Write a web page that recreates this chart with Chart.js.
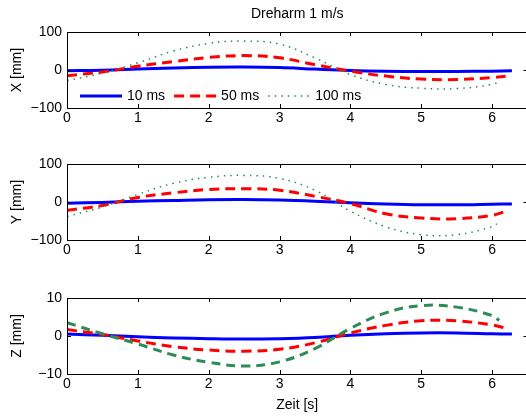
<!DOCTYPE html>
<html>
<head>
<meta charset="utf-8">
<script src="https://cdn.jsdelivr.net/npm/chart.js@4"></script>
<style>
    body { margin: 0; width: 526px; height: 417px; overflow: hidden; background: #fff; }
    .panel { position: absolute; left: 0; }
</style>
</head>
<body>
<div class="panel" style="top:0px"><canvas id="chartX" width="540" height="128"></canvas></div>
<div class="panel" style="top:140px"><canvas id="chartY" width="540" height="120"></canvas></div>
<div class="panel" style="top:274px"><canvas id="chartZ" width="540" height="143"></canvas></div>
<script>
// time stamps of each series (the slower ones stop a bit earlier)
const t10 = [0, 0.5, 1, 1.5, 2, 2.5, 3, 3.5, 4, 4.5, 5, 5.5, 6, 6.28];
const t50 = [0, 0.5, 1, 1.5, 2, 2.5, 3, 3.5, 4, 4.5, 5, 5.5, 6, 6.2];
const t100 = [0, 0.5, 1, 1.5, 2, 2.5, 3, 3.5, 4, 4.5, 5, 5.5, 6, 6.1];

const seriesLabels = ['10 ms', '50 ms', '100 ms'];

// X [mm]
const x10 = [-2, -0.5, 2.5, 5.5, 7.5, 8, 6.5, 2.5, -1, -3, -4, -4, -3, -2];
const x50 = [-15, -5, 10, 22, 33, 38, 32, 14, -3, -16, -24, -25, -20, -16];
const x100 = [-28, -8, 19, 50, 70, 76, 68, 32, -12, -38, -48, -49, -38, -31];

// Y [mm]
const y10 = [-3, -1, 2, 4, 6, 6.5, 5, 2, -2, -5, -7, -7.5, -6, -5];
const y50 = [-22, -9, 12, 24, 33, 35, 31, 15, -4, -31, -42, -44, -35, -24];
const y100 = [-38, -13, 20, 49, 65, 70, 62, 31, -24, -65, -86, -86, -65, -53];

// Z [mm]
const z10 = [0.5, 0.2, -0.2, -0.5, -0.7, -0.8, -0.7, -0.4, 0.2, 0.6, 0.8, 0.8, 0.6, 0.5];
const z50 = [1.7, 0.4, -1.3, -2.8, -3.7, -4, -3.5, -1.8, 0.8, 2.8, 4, 4, 2.9, 2];
const z100 = [3.5, 0.6, -2.1, -5, -6.9, -7.9, -6.8, -3.3, 2, 6.1, 8, 7.6, 5.4, 4.1];

const xTicksMax = 6.5;
const FONT = { family: '"Liberation Sans", Arial, sans-serif', size: 14 };
const BLUE = '#0000ff', RED = '#ff0000', GREEN = '#2e8b57';

function pts(ts, vs) {
    return ts.map((t, i) => ({ x: t, y: vs[i] }));
}

function minus(v) {
    return String(v).replace('-', '\u2212');
}

// box with inward ticks like the original plot
const framePlugin = {
    id: 'frame',
    afterDatasetsDraw(chart) {
        const { ctx, chartArea: a, scales } = chart;
        ctx.save();
        ctx.strokeStyle = '#000';
        ctx.lineWidth = 1;
        ctx.beginPath();
        scales.x.ticks.forEach(tk => {
            const px = Math.round(scales.x.getPixelForValue(tk.value)) + 0.5;
            ctx.moveTo(px, a.bottom); ctx.lineTo(px, a.bottom - 4);
            ctx.moveTo(px, a.top); ctx.lineTo(px, a.top + 4);
        });
        scales.y.ticks.forEach(tk => {
            const py = Math.round(scales.y.getPixelForValue(tk.value)) + 0.5;
            ctx.moveTo(a.left, py); ctx.lineTo(a.left + 4, py);
            ctx.moveTo(a.right, py); ctx.lineTo(a.right - 4, py);
        });
        ctx.stroke();
        ctx.strokeRect(Math.round(a.left) + 0.5, Math.round(a.top) + 0.5,
            Math.round(a.right - a.left), Math.round(a.bottom - a.top));
        ctx.restore();
    }
};

const titlePlugin = {
    id: 'topTitle',
    afterDraw(chart) {
        const { ctx, chartArea: a } = chart;
        ctx.save();
        ctx.font = `${FONT.size}px ${FONT.family}`;
        ctx.fillStyle = '#000';
        ctx.textAlign = 'center';
        ctx.textBaseline = 'middle';
        ctx.fillText('Dreharm 1 m/s', (a.left + a.right) / 2, 14);
        ctx.restore();
    }
};

// legend sits inside the first axes, lower left, without box
const legendPlugin = {
    id: 'innerLegend',
    afterDraw(chart) {
        const { ctx, chartArea: a } = chart;
        const y = a.bottom - 12;
        let x = a.left + 13;
        ctx.save();
        ctx.font = `${FONT.size}px ${FONT.family}`;
        ctx.textBaseline = 'middle';
        chart.data.datasets.forEach(ds => {
            ctx.strokeStyle = ds.borderColor;
            ctx.lineWidth = ds.borderWidth;
            ctx.setLineDash(ds.borderDash || []);
            ctx.beginPath();
            ctx.moveTo(x, y);
            ctx.lineTo(x + 42, y);
            ctx.stroke();
            ctx.setLineDash([]);
            x += 47;
            ctx.fillStyle = '#000';
            ctx.fillText(ds.label, x, y);
            x += ctx.measureText(ds.label).width + 9;
        });
        ctx.restore();
    }
};

function makeDatasets(v10, v50, v100, dotted) {
    return [
        { label: seriesLabels[0], data: pts(t10, v10), borderColor: BLUE, borderWidth: 3, order: 2 },
        { label: seriesLabels[1], data: pts(t50, v50), borderColor: RED, borderWidth: 3, borderDash: [10, 6], order: 1 },
        dotted
            ? { label: seriesLabels[2], data: pts(t100, v100), borderColor: GREEN, borderWidth: 1.5, borderDash: [1.5, 5], order: 0 }
            : { label: seriesLabels[2], data: pts(t100, v100), borderColor: GREEN, borderWidth: 3, borderDash: [9, 6], order: 0 }
    ];
}

function makeChart(id, datasets, yLabel, yLimit, opts) {
    const ctx = document.getElementById(id).getContext('2d');
    return new Chart(ctx, {
        type: 'line',
        data: { datasets },
        options: {
            responsive: false,
            animation: false,
            layout: { padding: { top: opts.top, right: 12.5, left: 0, bottom: 0 } },
            elements: { point: { radius: 0 }, line: { tension: 0.4, fill: false, borderCapStyle: 'butt' } },
            plugins: { legend: { display: false }, tooltip: { enabled: false }, title: { display: false } },
            scales: {
                x: {
                    type: 'linear',
                    min: 0,
                    max: xTicksMax,
                    grid: { display: false, drawTicks: false },
                    border: { display: false },
                    ticks: { stepSize: 1, includeBounds: false, padding: 2, color: '#000', font: FONT, maxRotation: 0, autoSkip: false },
                    title: { display: !!opts.xTitle, text: opts.xTitle || '', color: '#000', font: FONT, padding: { top: 0, bottom: 3 } },
                    afterFit(scale) { scale.height = opts.xHeight; }
                },
                y: {
                    min: -yLimit,
                    max: yLimit,
                    grid: { display: false, drawTicks: false },
                    border: { display: false },
                    ticks: { stepSize: yLimit, padding: 5, color: '#000', font: FONT, autoSkip: false, callback: minus },
                    title: { display: true, text: yLabel, color: '#000', font: FONT, padding: { top: 9, bottom: 0 } },
                    afterFit(scale) { scale.width = 67; }
                }
            }
        },
        plugins: opts.plugins
    });
}

makeChart('chartX', makeDatasets(x10, x50, x100, true), 'X [mm]', 100,
    { top: 32, xHeight: 20, plugins: [framePlugin, titlePlugin, legendPlugin] });
makeChart('chartY', makeDatasets(y10, y50, y100, true), 'Y [mm]', 100,
    { top: 24, xHeight: 20, plugins: [framePlugin] });
makeChart('chartZ', makeDatasets(z10, z50, z100, false), 'Z [mm]', 10,
    { top: 24, xHeight: 43, xTitle: 'Zeit [s]', plugins: [framePlugin] });
</script>
</body>
</html>
